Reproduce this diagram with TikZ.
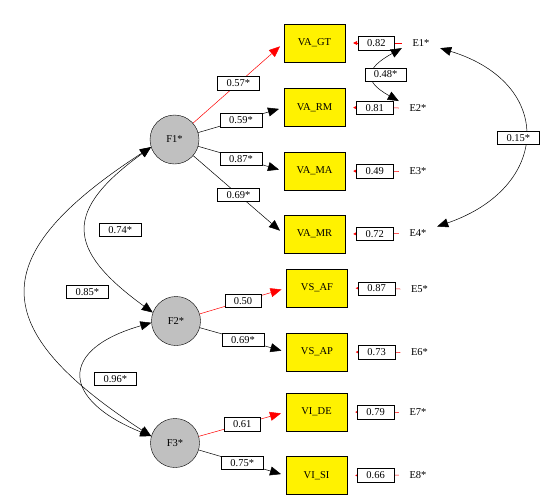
\documentclass[tikz,border=0pt]{standalone}
\usepackage{fontspec}
\setmainfont{Liberation Serif}
\usepackage{tikz}
\usetikzlibrary{arrows.meta}

\definecolor{factgray}{RGB}{192,192,192}

\begin{document}
\begin{tikzpicture}[x=1pt, y=1pt,
  every node/.style={font=\fontsize{10.5}{12}\selectfont},
  factor/.style={draw, circle, fill=factgray, minimum size=49pt, inner sep=0pt},
  ind/.style={draw, fill=yellow, minimum width=61pt, minimum height=38pt, inner sep=0pt},
  err/.style={minimum width=38pt, minimum height=14pt, inner sep=0pt},
  val/.style={draw=black, text=black, fill=white, minimum height=13.5pt,
              inner xsep=9pt, inner ysep=0pt},
  load/.style={-{Triangle[length=11pt,width=9pt]}, line width=0.5pt, shorten >=5pt},
  fixed/.style={load, red},
  resid/.style={-{Triangle[length=4pt,width=4pt]}, red, line width=0.5pt, shorten >=8pt},
  cov/.style={{Triangle[length=11pt,width=9pt]}-{Triangle[length=11pt,width=9pt]}, line width=0.5pt},
]
\useasboundingbox (0,0) rectangle (545,-501);

% Factors
\node[factor] (F1) at (174.5,-139.5) {F1*};
\node[factor] (F2) at (176,-321) {F2*};
\node[factor] (F3) at (175,-443) {F3*};

% Indicators
\node[ind] (GT) at (314.5,-43) {VA\_GT};
\node[ind] (RM) at (314.5,-107.5) {VA\_RM};
\node[ind] (MA) at (314.5,-171) {VA\_MA};
\node[ind] (MR) at (314.5,-234) {VA\_MR};
\node[ind] (AF) at (317,-288) {VS\_AF};
\node[ind] (AP) at (317,-352) {VS\_AP};
\node[ind] (DE) at (316.5,-412) {VI\_DE};
\node[ind] (SI) at (316.5,-475.5) {VI\_SI};

% Errors
\node[err] (E1) at (421,-43) {E1*};
\node[err] (E2) at (418,-108) {E2*};
\node[err] (E3) at (418,-171.5) {E3*};
\node[err] (E4) at (418,-233.5) {E4*};
\node[err] (E5) at (419.5,-289) {E5*};
\node[err] (E6) at (419.5,-352.5) {E6*};
\node[err] (E7) at (418,-412.5) {E7*};
\node[err] (E8) at (418,-475) {E8*};

% Loadings
\draw[fixed] (F1) -- node[val]{0.57*} (GT.west);
\draw[load] (F1) -- node[val]{0.59*} (RM.west);
\draw[load] (F1) -- node[val]{0.87*} (MA.west);
\draw[load] (F1) -- node[val]{0.69*} (MR.west);
\draw[fixed] (F2) -- node[val]{0.50} (AF.west);
\draw[load] (F2) -- node[val]{0.69*} (AP.west);
\draw[fixed] (F3) -- node[val]{0.61} (DE.west);
\draw[load] (F3) -- node[val]{0.75*} (SI.west);

% Residual paths
\draw[resid] (E1.west) -- node[val,pos=0.45]{0.82} (GT.east);
\draw[resid] (E2.west) -- node[val,pos=0.45]{0.81} (RM.east);
\draw[resid] (E3.west) -- node[val,pos=0.45]{0.49} (MA.east);
\draw[resid] (E4.west) -- node[val,pos=0.45]{0.72} (MR.east);
\draw[resid] (E5.west) -- node[val,pos=0.45]{0.87} (AF.east);
\draw[resid] (E6.west) -- node[val,pos=0.45]{0.73} (AP.east);
\draw[resid] (E7.west) -- node[val,pos=0.45]{0.79} (DE.east);
\draw[resid] (E8.west) -- node[val,pos=0.45]{0.66} (SI.east);

% Covariances
\draw[cov] (F1.198) to[out=216,in=144,looseness=1.67] node[val,xshift=34pt]{0.74*} (F2.160);
\draw[cov] (F1.198) to[out=213,in=147,looseness=1.76] node[val,xshift=61pt]{0.85*} (F3.164);
\draw[cov] (F2.184) to[out=196,in=158,looseness=2.2] node[val,xshift=33pt,yshift=-3pt]{0.96*} (F3.164);
\draw[cov] (E1.195) to[out=209,in=151,looseness=2] node[val,xshift=12.5pt]{0.48*} (E2.160);
\draw[cov] (E1.-15) to[out=-17,in=19,looseness=1.72] node[val,xshift=-6pt,yshift=-2pt]{0.15*} (E4.20);
\end{tikzpicture}
\end{document}
